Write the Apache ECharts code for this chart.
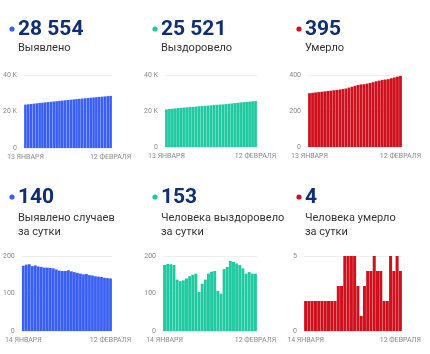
<!DOCTYPE html>
<html>
<head>
<meta charset="utf-8">
<script src="https://cdn.jsdelivr.net/npm/echarts@6/dist/echarts.min.js"></script>
<style>
  html, body { margin: 0; padding: 0; background: #fff; }
  #chart { width: 430px; height: 354px; }
</style>
</head>
<body>
<div id="chart"></div>
<script>
// даты (13 января — 12 февраля)
const dates = [
  '13 ЯНВАРЯ', '14 ЯНВАРЯ', '15 ЯНВАРЯ', '16 ЯНВАРЯ', '17 ЯНВАРЯ', '18 ЯНВАРЯ',
  '19 ЯНВАРЯ', '20 ЯНВАРЯ', '21 ЯНВАРЯ', '22 ЯНВАРЯ', '23 ЯНВАРЯ', '24 ЯНВАРЯ',
  '25 ЯНВАРЯ', '26 ЯНВАРЯ', '27 ЯНВАРЯ', '28 ЯНВАРЯ', '29 ЯНВАРЯ', '30 ЯНВАРЯ',
  '31 ЯНВАРЯ', '1 ФЕВРАЛЯ', '2 ФЕВРАЛЯ', '3 ФЕВРАЛЯ', '4 ФЕВРАЛЯ', '5 ФЕВРАЛЯ',
  '6 ФЕВРАЛЯ', '7 ФЕВРАЛЯ', '8 ФЕВРАЛЯ', '9 ФЕВРАЛЯ', '10 ФЕВРАЛЯ', '11 ФЕВРАЛЯ',
  '12 ФЕВРАЛЯ'
]
const dailyDates = dates.slice(1)

// накопительные значения
const confirmedTotal = [
  23772, 23946, 24123, 24301, 24474, 24649, 24821, 24992, 25161, 25330, 25498,
  25665, 25829, 25990, 26150, 26310, 26472, 26631, 26788, 26943, 27096, 27247,
  27399, 27548, 27696, 27842, 27987, 28131, 28273, 28414, 28554
]
const recoveredTotal = [
  20928, 21104, 21283, 21461, 21637, 21774, 21907, 22042, 22182, 22328, 22478,
  22631, 22735, 22861, 22998, 23151, 23309, 23469, 23576, 23675, 23840, 24011,
  24198, 24382, 24562, 24738, 24905, 25058, 25215, 25368, 25521
]
const deathsTotal = [
  299, 301, 303, 305, 307, 309, 311, 313, 315, 317, 319, 322, 325, 330, 335, 340,
  345, 348, 349, 352, 356, 360, 365, 369, 373, 375, 377, 382, 386, 391, 395
]

// за сутки
const confirmedDaily = [
  174, 177, 178, 173, 175, 172, 171, 169, 169, 168, 167, 164, 161, 160, 160,
  162, 159, 157, 155, 153, 151, 152, 149, 148, 146, 145, 144, 142, 141, 140
]
const recoveredDaily = [
  176, 179, 178, 176, 137, 133, 135, 140, 146, 150, 153, 104, 126, 137, 153,
  158, 160, 107, 99, 165, 171, 187, 184, 180, 176, 167, 153, 157, 153, 153
]
const deathsDaily = [
  2, 2, 2, 2, 2, 2, 2, 2, 2, 2, 3, 3, 5, 5, 5,
  5, 3, 1, 3, 4, 4, 5, 4, 4, 2, 2, 5, 4, 5, 4
]

const headlines = ['28 554', '25 521', '395', '140', '153', '4']
const captions = [
  ['Выявлено'], ['Выздоровело'], ['Умерло'],
  ['Выявлено случаев', 'за сутки'],
  ['Человека выздоровело', 'за сутки'],
  ['Человека умерло', 'за сутки']
]

const BLUE = '#3a5ff5'
const TEAL = '#1fcaa0'
const RED = '#d0101c'
const NAVY = '#0f2f72'

const panels = [
  { data: confirmedTotal, cats: dates, color: BLUE, max: 40000, interval: 20000, k: true,
    grid: { left: 21, top: 75, width: 91, height: 73 }, col: 0, row: 0 },
  { data: recoveredTotal, cats: dates, color: TEAL, max: 40000, interval: 20000, k: true,
    grid: { left: 165, top: 75, width: 92, height: 72 }, col: 143, row: 0 },
  { data: deathsTotal, cats: dates, color: RED, max: 400, interval: 200, k: false,
    grid: { left: 308, top: 75, width: 94, height: 72 }, col: 287, row: 0 },
  { data: confirmedDaily, cats: dailyDates, color: BLUE, max: 200, interval: 100, k: false,
    grid: { left: 19, top: 256, width: 93, height: 75 }, col: 0, row: 1 },
  { data: recoveredDaily, cats: dailyDates, color: TEAL, max: 200, interval: 100, k: false,
    grid: { left: 163, top: 256, width: 94, height: 75 }, col: 143, row: 1 },
  { data: deathsDaily, cats: dailyDates, color: RED, max: 5, interval: 5, k: false,
    grid: { left: 304, top: 256, width: 98, height: 75 }, col: 287, row: 1 }
]

const labelStyle = {
  color: '#8a8a8a',
  fontSize: 7,
  fontFamily: 'Roboto'
}

const grids = []
const xAxes = []
const yAxes = []
const series = []
const graphics = []

panels.forEach((p, i) => {
  grids.push(p.grid)
  xAxes.push({
    type: 'category',
    gridIndex: i,
    data: p.cats,
    axisLine: { show: false },
    axisTick: { show: false },
    axisLabel: {
      ...labelStyle,
      margin: 6,
      interval: (idx) => idx === 0 || idx === p.cats.length - 1,
      hideOverlap: false
    }
  })
  yAxes.push({
    type: 'value',
    gridIndex: i,
    min: 0,
    max: p.max,
    interval: p.interval,
    axisLine: { show: false },
    axisTick: { show: false },
    splitLine: { lineStyle: { color: '#efefef', width: 1 } },
    axisLabel: {
      ...labelStyle,
      margin: 7,
      formatter: (v) => (p.k && v > 0 ? v / 1000 + ' K' : String(v))
    }
  })
  series.push({
    type: 'bar',
    xAxisIndex: i,
    yAxisIndex: i,
    data: p.data,
    barCategoryGap: '7%',
    itemStyle: { color: p.color },
    silent: true
  })

  // заголовок панели
  const yNum = p.row === 0 ? 29 : 197
  const yCap = p.row === 0 ? 48 : 218
  graphics.push({
    type: 'circle',
    shape: { cx: p.col + 12, cy: yNum, r: 2.6 },
    style: { fill: p.color }
  })
  graphics.push({
    type: 'text',
    x: p.col + 18,
    y: yNum + 1,
    style: {
      text: headlines[i],
      fill: NAVY,
      font: 'bold 21px Roboto',
      verticalAlign: 'middle'
    }
  })
  captions[i].forEach((line, j) => {
    graphics.push({
      type: 'text',
      x: p.col + 18,
      y: yCap + j * 14,
      style: {
        text: line,
        fill: '#333333',
        font: '11px Roboto',
        verticalAlign: 'middle'
      }
    })
  })
})

const chart = echarts.init(document.getElementById('chart'), null, { renderer: 'canvas' })
chart.setOption({
  animation: false,
  grid: grids,
  xAxis: xAxes,
  yAxis: yAxes,
  series: series,
  graphic: graphics
})
</script>
</body>
</html>
